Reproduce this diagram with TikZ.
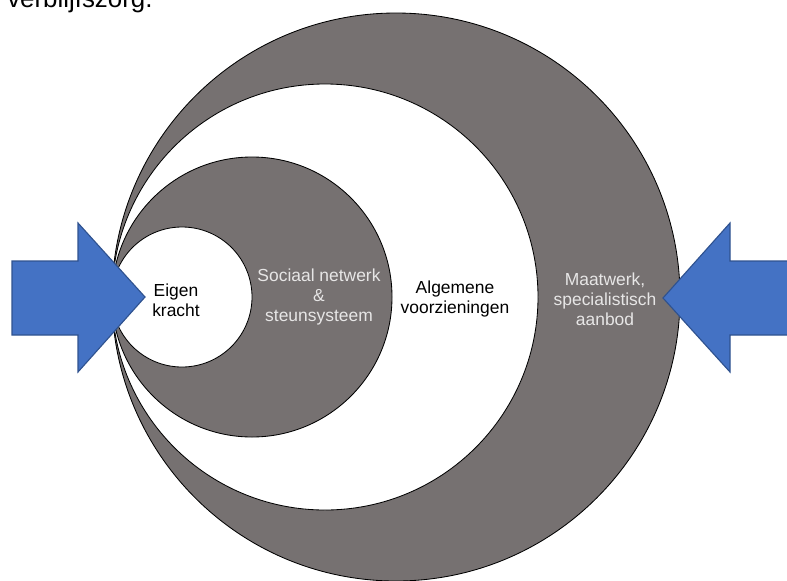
\documentclass[tikz,border=0pt]{standalone}
\usepackage{fontspec}
\setmainfont{Liberation Sans}
\definecolor{grijs}{RGB}{118,113,113}
\definecolor{lichtgrijs}{RGB}{231,230,230}
\definecolor{blokblauw}{RGB}{68,114,196}
\definecolor{randblauw}{RGB}{47,82,143}
\begin{document}
\begin{tikzpicture}[x=0.025cm,y=-0.025cm,
    ring/.style={draw=black,line width=0.6pt},
    tekst/.style={align=center,inner sep=0pt,font=\fontsize{12.4}{14.2}\selectfont},
    pijl/.style={fill=blokblauw,draw=randblauw,line width=0.8pt,line join=miter}]
    \useasboundingbox(0,0)rectangle(787,580);
    \clip(0,0)rectangle(787,580);
    \node[anchor=base west,inner sep=0pt,font=\fontsize{18.4}{22}\selectfont](kop)at(7,7.3){verblijfszorg.};
    % ringen, allemaal rakend in (112,297)
    \draw[ring,fill=grijs](396,297)circle[radius=284];
    \draw[ring,fill=white](325,297)circle[radius=213];
    \draw[ring,fill=grijs](252,297)circle[radius=140];
    \draw[ring,fill=white](182,297)circle[radius=70];
    \node[tekst](eigen)at(176,300){Eigen\\kracht};
    \node[tekst,text=lichtgrijs](sociaal)at(319,297){Sociaal netwerk\\\&\\steunsysteem};
    \node[tekst](algemeen)at(455,299){Algemene\\voorzieningen};
    \node[tekst,text=lichtgrijs](maatwerk)at(605,299){Maatwerk,\\specialistisch\\aanbod};
    % pijlen
    \draw[pijl](12,261)--(78,261)--(78,223)--(145,297)--(78,372)--(78,335)--(12,335)--cycle;
    \draw[pijl](800,261)--(730,261)--(730,223)--(663,298)--(730,372)--(730,335)--(800,335)--cycle;
\end{tikzpicture}
\end{document}
